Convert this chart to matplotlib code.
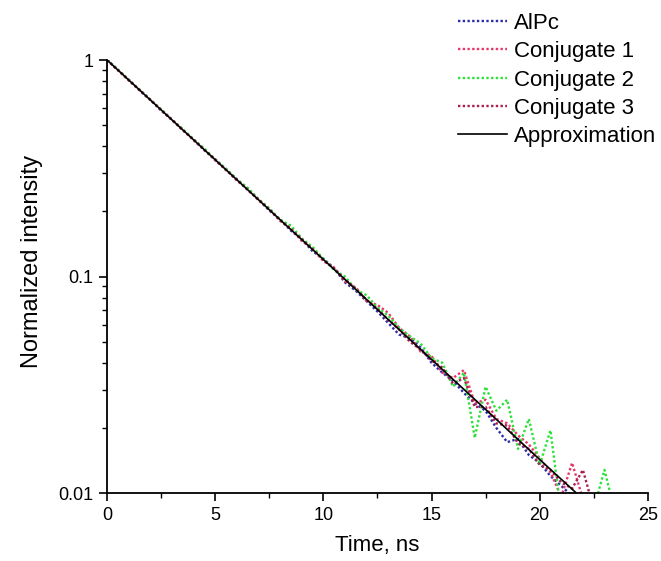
import matplotlib
matplotlib.use("Agg")
import matplotlib.pyplot as plt
from matplotlib.ticker import FixedLocator, NullFormatter, LogLocator

plt.rcParams['font.family'] = ['Liberation Sans', 'DejaVu Sans']

# time axis, ns
time_ns = [0, 0.5, 1, 1.5, 2, 2.5, 3, 3.5, 4, 4.5, 5, 5.5, 6, 6.5, 7, 7.5,
           8, 8.5, 9, 9.5, 10, 10.5, 11, 11.5, 12, 12.5, 13, 13.5, 14, 14.5,
           15, 15.5, 16, 16.5, 17, 17.5, 18, 18.5, 19, 19.5, 20, 20.5, 21,
           21.5, 22, 22.5, 23, 23.5]

alpc = [1.0, 0.90, 0.81, 0.725, 0.655, 0.585, 0.53, 0.475, 0.43, 0.383,
        0.347, 0.312, 0.279, 0.253, 0.227, 0.202, 0.184, 0.163, 0.149, 0.131,
        0.121, 0.109, 0.094, 0.086, 0.077, 0.069, 0.061, 0.054, 0.052, 0.047,
        0.040, 0.036, 0.033, 0.029, 0.026, 0.024, 0.020, 0.0172, 0.0178,
        0.0150, 0.0138, 0.0120, 0.0108, 0.0097, 0.0092, 0.008, 0.007, 0.007]

conj1 = [1.0, 0.90, 0.805, 0.73, 0.652, 0.59, 0.527, 0.478, 0.426, 0.387,
         0.344, 0.313, 0.278, 0.254, 0.225, 0.205, 0.181, 0.167, 0.146, 0.135,
         0.118, 0.110, 0.095, 0.089, 0.077, 0.074, 0.068, 0.058, 0.053, 0.045,
         0.043, 0.036, 0.034, 0.037, 0.026, 0.027, 0.022, 0.021, 0.0185,
         0.0168, 0.0145, 0.0125, 0.0096, 0.0138, 0.0094, 0.0085, 0.0075, 0.007]

conj2 = [1.0, 0.905, 0.81, 0.73, 0.655, 0.592, 0.53, 0.48, 0.43, 0.39,
         0.348, 0.315, 0.282, 0.257, 0.228, 0.207, 0.183, 0.172, 0.150, 0.137,
         0.121, 0.107, 0.100, 0.087, 0.082, 0.072, 0.066, 0.058, 0.053, 0.049,
         0.042, 0.040, 0.031, 0.036, 0.018, 0.031, 0.024, 0.027, 0.016,
         0.022, 0.0135, 0.0195, 0.008, 0.009, 0.008, 0.0085, 0.0128, 0.008]

conj3 = [1.0, 0.898, 0.808, 0.726, 0.656, 0.587, 0.531, 0.474, 0.429, 0.384,
         0.347, 0.31, 0.281, 0.251, 0.227, 0.204, 0.182, 0.166, 0.149, 0.134,
         0.119, 0.109, 0.097, 0.088, 0.078, 0.071, 0.063, 0.057, 0.050, 0.046,
         0.041, 0.038, 0.032, 0.034, 0.025, 0.025, 0.021, 0.0205, 0.017,
         0.016, 0.0135, 0.0128, 0.0112, 0.0105, 0.0128, 0.0085, 0.0075, 0.007]

# mono-exponential fit
approx_t = [0, 2, 4, 6, 8, 10, 12, 14, 16, 18, 20, 21.7]
approx_y = [1.0, 0.654, 0.428, 0.280, 0.183, 0.120, 0.0783, 0.0512,
            0.0335, 0.0219, 0.0143, 0.0100]

series = [
    ("AlPc", alpc, "#2b2ba8"),
    ("Conjugate 1", conj1, "#e8366a"),
    ("Conjugate 2", conj2, "#2ee03a"),
    ("Conjugate 3", conj3, "#a8204e"),
]

fig = plt.figure(figsize=(6.61, 5.61), dpi=100)
ax = fig.add_axes([0.162, 0.121, 0.818, 0.772])

for name, vals, color in series:
    ax.plot(time_ns, vals, linestyle=(0, (1, 1)), lw=1.7, color=color,
            label=name)
ax.plot(approx_t, approx_y, color="black", lw=1.2, label="Approximation")

ax.set_yscale("log")
ax.set_ylim(0.01, 1)
ax.set_xlim(0, 25)
ax.set_xticks([0, 5, 10, 15, 20, 25])
ax.xaxis.set_minor_locator(FixedLocator([2.5, 7.5, 12.5, 17.5, 22.5]))
ax.set_yticks([0.01, 0.1, 1])
ax.set_yticklabels(["0.01", "0.1", "1"])
ax.yaxis.set_minor_locator(LogLocator(base=10, subs=range(2, 10)))
ax.yaxis.set_minor_formatter(NullFormatter())

for s in ("top", "right"):
    ax.spines[s].set_visible(False)
for s in ("left", "bottom"):
    ax.spines[s].set_linewidth(1.3)

ax.tick_params(which="major", direction="out", length=6, width=1.2,
               labelsize=13, pad=4)
ax.tick_params(which="minor", direction="out", length=3.5, width=1.0)

ax.set_xlabel("Time, ns", fontsize=16, labelpad=8)
ax.set_ylabel("Normalized intensity", fontsize=17)
ax.yaxis.set_label_coords(-0.118, 0.535)

fig.legend(loc="upper right", bbox_to_anchor=(1.0, 0.985), frameon=False,
           fontsize=16, handlelength=2.2, handletextpad=0.35,
           labelspacing=0.33, borderpad=0.1, borderaxespad=0.1)

fig.savefig("out.png", dpi=100)
